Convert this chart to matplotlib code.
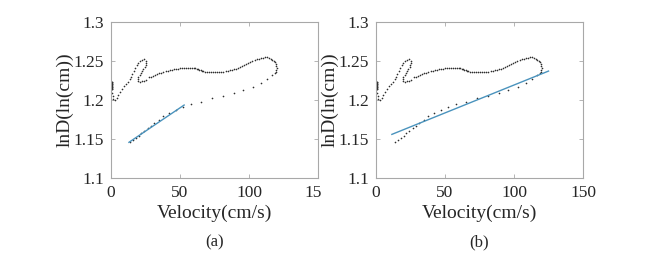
import matplotlib
matplotlib.use("Agg")
import matplotlib.pyplot as plt
import matplotlib.transforms as mtransforms
import numpy as np

plt.rcParams['font.family'] = ['Liberation Serif', 'DejaVu Serif']

# --- data: trajectory of lnD versus velocity (same for both panels) ---
# start: near-zero velocity, rise and hook
vel_start = [0.5, 0.5, 0.5, 0.5, 0.5, 0.5, 0.5, 0.5, 0.5, 0.5, 0.5, 0.5,
             0.8, 1.2, 1.8, 2.8, 4, 5, 6.5, 8, 9.5, 11, 12.2, 13.5, 14.5,
             15.5, 16.5, 17.5, 18.6, 19.8, 21, 22.5, 24.1, 25.2, 25.4, 25,
             24.3, 23.5, 22.6, 21.6, 20.7, 19.9, 19.4, 19.8, 21, 22.5, 24,
             25.5]
lnD_start = [1.2235, 1.2226, 1.2217, 1.2208, 1.2199, 1.2190, 1.2181, 1.2172,
             1.2163, 1.2154, 1.2145, 1.2136,
             1.2090, 1.2050, 1.2017, 1.2005, 1.2030, 1.2060, 1.2106, 1.2140,
             1.2178, 1.2205, 1.2235, 1.2270, 1.2300, 1.2335, 1.2370, 1.2405,
             1.2445, 1.2478, 1.2504, 1.2518, 1.2522, 1.2505, 1.2480, 1.2455,
             1.2425, 1.2398, 1.2370, 1.2342, 1.2315, 1.2290, 1.2265, 1.2242,
             1.2237, 1.2242, 1.2250, 1.2262]
# plateau and right lobe
vel_upper = [27.5, 29, 30.5, 32, 33.5, 35, 36.5, 38, 39.5, 41, 42.5, 44,
             45.5, 47, 48.5, 50, 51.5, 53, 54.5, 56, 57.5, 59, 60, 61, 62,
             63, 64, 65, 66, 67, 68, 69.5, 71, 72.5, 74, 75.5, 77, 78.5, 80,
             81.5, 83, 84.5, 86, 87.5, 89, 90.5, 92, 93.5, 95, 96.5, 98,
             99.5, 101, 102.5, 104, 105.5, 107, 108.5, 110, 111.5, 113,
             114.5, 115.8, 117, 118, 118.8, 119.4, 119.8, 120, 119.8, 119.4,
             118.8]
lnD_upper = [1.2289, 1.2300, 1.2311, 1.2322, 1.2332, 1.2342, 1.2351, 1.2359,
             1.2367, 1.2374, 1.2381, 1.2387, 1.2392, 1.2397, 1.2401, 1.2405,
             1.2408, 1.2410, 1.2412, 1.2413, 1.2413, 1.2412, 1.2409, 1.2405,
             1.2400, 1.2394, 1.2387, 1.2380, 1.2374, 1.2369, 1.2365, 1.2361,
             1.2358, 1.2356, 1.2355, 1.2355, 1.2356, 1.2358, 1.2361, 1.2364,
             1.2368, 1.2373, 1.2379, 1.2386, 1.2394, 1.2403, 1.2413, 1.2425,
             1.2437, 1.2450, 1.2463, 1.2476, 1.2489, 1.2501, 1.2512, 1.2522,
             1.2531, 1.2538, 1.2543, 1.2546, 1.2545, 1.2540, 1.2530, 1.2516,
             1.2500, 1.2482, 1.2462, 1.2440, 1.2415, 1.2390, 1.2365, 1.2342]
# lower (decelerating) branch
vel_lower = [116.6, 113.4, 108.7, 102.7, 95.8, 88.8, 81.3, 73.4, 65.2, 58.0,
             52.0, 47.0, 42.0, 38.0, 34.5, 31.5, 29.0, 26.5, 24.0, 22.0,
             20.0, 18.0, 16.0, 14.0]
lnD_lower = [1.2320, 1.2265, 1.2214, 1.2165, 1.2122, 1.2088, 1.2051, 1.2025,
             1.1980, 1.1945, 1.1912, 1.1878, 1.1835, 1.1790, 1.1750, 1.1707,
             1.1672, 1.1637, 1.1602, 1.1572, 1.1542, 1.1512, 1.1486, 1.1460]

vel = vel_start + vel_upper + vel_lower
lnD = lnD_start + lnD_upper + lnD_lower

# linear fits: (slope, intercept, x_start, x_end)
fit_a = (0.001195, 1.1302, 13.0, 53.0)
fit_b = (0.000715, 1.1477, 11.5, 125.0)

xticks = [0, 50, 100, 150]
xticklabels_a = ['0', '50', '100', '15']
xticklabels_b = ['0', '50', '100', '150']
yticks = [1.1, 1.15, 1.2, 1.25, 1.3]
yticklabels = ['1.1', '1.15', '1.2', '1.25', '1.3']

W, H = 656, 262
fig = plt.figure(figsize=(W / 100, H / 100), dpi=100)

frame_col = '#a8a8a8'
text_col = '#262626'
fit_col = '#4a93bd'

panels = [
    (111, fit_a, xticklabels_a, '(a)'),
    (376, fit_b, xticklabels_b, '(b)'),
]
for left_px, fit, xtl, tag in panels:
    ax = fig.add_axes([left_px / W, 1 - 178 / H, 207 / W, 156 / H])
    ax.plot(vel, lnD, linestyle='none', marker='o', markersize=1.2,
            color='#2e2e2e', markeredgewidth=0)
    slope, inter, x0, x1 = fit
    xs = np.array([x0, x1])
    ax.plot(xs, slope * xs + inter, color=fit_col, linewidth=1.0)
    ax.set_xlim(0, 150)
    ax.set_ylim(1.1, 1.3)
    ax.set_xticks(xticks)
    ax.set_xticklabels(xtl)
    ax.set_yticks(yticks)
    ax.set_yticklabels(yticklabels)
    ax.tick_params(direction='in', length=3, width=0.6, colors=frame_col,
                   labelcolor=text_col, labelsize=12.5, top=True, right=True,
                   pad=5)
    for s in ax.spines.values():
        s.set_color(frame_col)
        s.set_linewidth(0.8)
    ax.set_xlabel('Velocity(cm/s)', fontsize=14, color=text_col, labelpad=3)
    ax.set_ylabel('lnD(ln(cm))', fontsize=14, color=text_col, labelpad=0)
    if tag == '(a)':
        lab = ax.get_xticklabels()[-1]
        lab.set_transform(lab.get_transform() +
                          mtransforms.ScaledTranslation(-5 / 100, 0, fig.dpi_scale_trans))
    cx = (left_px + 103.5) / W
    fig.text(cx, 1 - 242 / H, tag, ha='center', va='center', fontsize=12,
             color=text_col)

fig.savefig('out.png', dpi=100, facecolor='white')
